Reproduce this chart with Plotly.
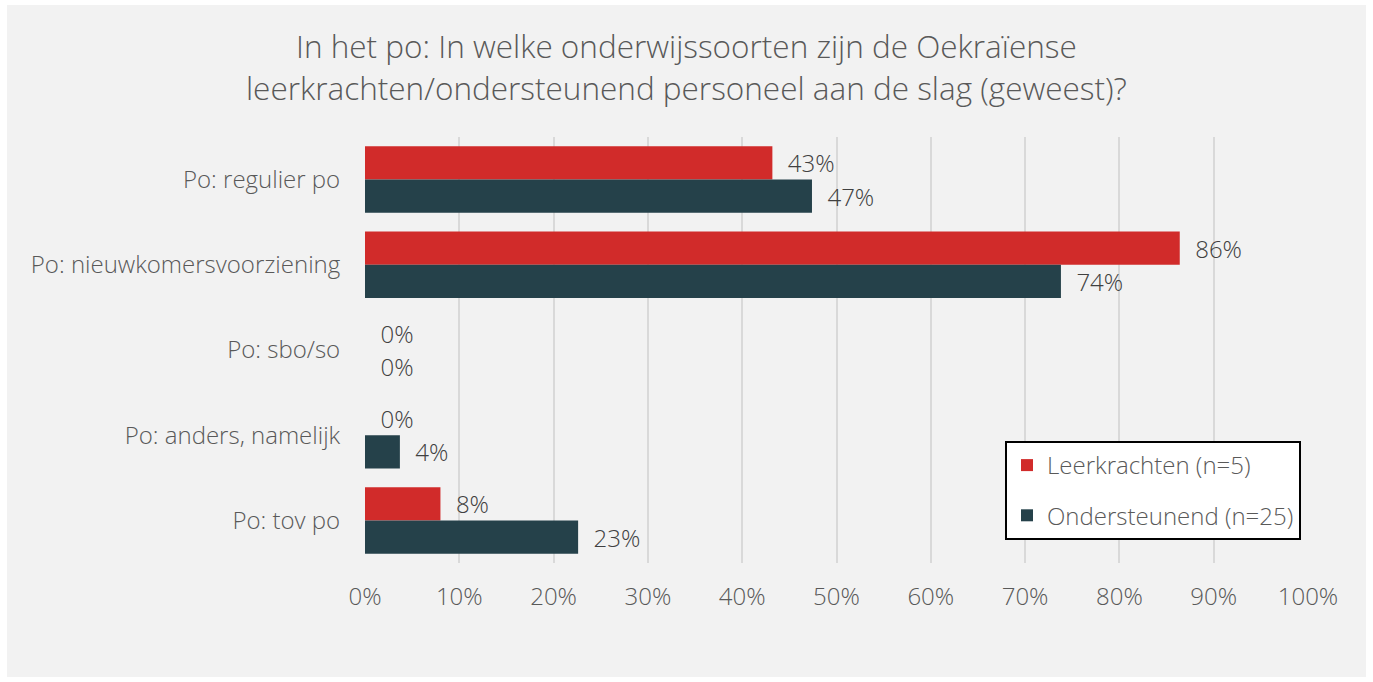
import plotly.graph_objects as go

categories = ["Po: regulier po", "Po: nieuwkomersvoorziening", "Po: sbo/so",
              "Po: anders, namelijk", "Po: tov po"]
leerkrachten = [43.2, 86.4, 0.0, 0.0, 8.0]
ondersteunend = [47.4, 73.8, 0.0, 3.7, 22.6]
series_names = ["Leerkrachten (n=5)", "Ondersteunend (n=25)"]
tick_vals = [0, 10, 20, 30, 40, 50, 60, 70, 80, 90, 100]
tick_text = [f"{v}%" for v in tick_vals]
title_lines = ["In het po: In welke onderwijssoorten zijn de Oekraïense",
               "leerkrachten/ondersteunend personeel aan de slag (geweest)?"]

FONT = "Open Sans"
FS = 24
W, H = 1373, 682
ML, MR, MT, MB = 365, 65, 137, 119
pw, ph = W - ML - MR, H - MT - MB

fig = go.Figure()
for name, vals, color, grp in [(series_names[0], leerkrachten, "#d12b2a", "a"),
                               (series_names[1], ondersteunend, "#25414a", "b")]:
    fig.add_trace(go.Bar(
        y=categories, x=vals, name=name, orientation="h",
        marker=dict(color=color, line=dict(width=0)),
        text=[f"  {round(v)}%" for v in vals], textposition="outside",
        textfont=dict(family=FONT, size=FS, color="#404040", weight=300),
        cliponaxis=False, legendgroup=grp,
    ))

# gray card behind everything, leaving a white border
x0 = (7 - ML) / pw
x1 = (1366 - ML) / pw
y1 = (H - 5 - MB) / ph
y0 = (H - 677 - MB) / ph
fig.add_shape(type="rect", xref="paper", yref="paper", x0=x0, x1=x1, y0=y0, y1=y1,
              fillcolor="#f2f2f2", line=dict(width=0), layer="below")

# two-line title as annotations for exact line spacing
for line, ypix in zip(title_lines, [46, 87]):
    fig.add_annotation(text=line, xref="paper", yref="paper",
                       x=(686.5 - ML) / pw, y=(H - ypix - MB) / ph,
                       xanchor="center", yanchor="middle", showarrow=False,
                       font=dict(family=FONT, size=31.5, color="#595959", weight=300))

fig.update_layout(
    width=W, height=H,
    margin=dict(l=ML, r=MR, t=MT, b=MB, pad=0),
    paper_bgcolor="white", plot_bgcolor="white",
    barmode="group", bargap=0.22, bargroupgap=0,
    font=dict(family=FONT, color="#595959"),
    showlegend=True,
    legend=dict(x=(1005 - ML) / pw, y=(H - 441 - MB) / ph, xanchor="left", yanchor="top",
                bgcolor="white", bordercolor="black", borderwidth=2,
                font=dict(family=FONT, size=FS, color="#595959", weight=300),
                tracegroupgap=16, traceorder="grouped"),
    xaxis=dict(range=[0, 100], tickvals=tick_vals, ticktext=tick_text,
               showgrid=True, gridcolor="#d9d9d9", gridwidth=2,
               zeroline=False, showline=False,
               ticks="outside", ticklen=12, tickcolor="rgba(0,0,0,0)",
               tickfont=dict(family=FONT, size=FS, color="#595959", weight=300)),
    yaxis=dict(autorange="reversed", showgrid=False, showline=False, zeroline=False,
               ticks="outside", ticklen=19, tickcolor="rgba(0,0,0,0)",
               tickfont=dict(family=FONT, size=FS, color="#595959", weight=300)),
)

fig.write_html("out.html", config={"displayModeBar": False},
               post_script="document.body.style.margin='0';")
